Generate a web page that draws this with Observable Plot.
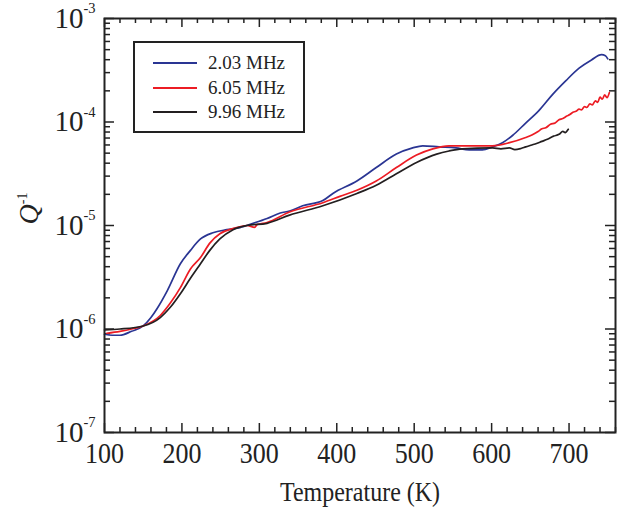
<!DOCTYPE html>
<html>
<head>
<meta charset="utf-8">
<script src="https://cdn.jsdelivr.net/npm/d3@7"></script>
<script src="https://cdn.jsdelivr.net/npm/@observablehq/plot@0.6"></script>
<style>
  html, body { margin: 0; padding: 0; background: #fff; }
  #wrap { position: relative; width: 633px; height: 508px; font-family: "Liberation Serif", "Times New Roman", serif; }
  #legend { position: absolute; left: 133px; top: 41px; width: 168px; height: 88px; border: 2px solid #222; background: #fff; }
  .row { position: absolute; left: 0; height: 24px; display: flex; align-items: center; }
  .sw { width: 44px; height: 0; border-top: 2px solid; margin-left: 18px; margin-right: 11px; }
  .lab { font-size: 19px; color: #222; }
</style>
</head>
<body>
<div id="wrap"></div>
<script>
// ---- data ----
const seriesNames = ["2.03 MHz", "6.05 MHz", "9.96 MHz"];
const seriesColors = ["#2a3593", "#ec1c24", "#231f20"];

const tBlue = [100,110,120,135,150,160,168,181,198,211,224,240,258,275,292,310,327,339,356,382,395,426,451,477,498,511,532,554,571,588,601,614,627,644,661,678,696,713,729,742,747,750];
const qBlue = [8.9e-7,8.7e-7,8.7e-7,9.5e-7,1.07e-6,1.29e-6,1.58e-6,2.34e-6,4.27e-6,5.75e-6,7.41e-6,8.51e-6,9.12e-6,9.55e-6,1.05e-5,1.17e-5,1.32e-5,1.38e-5,1.55e-5,1.74e-5,2.04e-5,2.69e-5,3.63e-5,4.9e-5,5.62e-5,5.89e-5,5.75e-5,5.62e-5,5.37e-5,5.37e-5,5.75e-5,6.31e-5,7.41e-5,9.77e-5,1.29e-4,1.82e-4,2.51e-4,3.31e-4,3.98e-4,4.47e-4,4.37e-4,4.07e-4];

const tRed = [103,120,135,150,172,185,198,211,224,236,249,266,284,294,297,310,339,382,404,426,451,477,503,524,545,571,601,623,644,652,660,665,670,676,682,687,692,697,701,705,709,713,716,720,723,727,730,734,737,740,743,746,749,752];
const qRed = [9.1e-7,9.5e-7,1.0e-6,1.07e-6,1.35e-6,1.78e-6,2.51e-6,3.8e-6,4.9e-6,6.76e-6,8.32e-6,9.33e-6,1.0e-5,9.6e-6,1.02e-5,1.07e-5,1.35e-5,1.66e-5,1.91e-5,2.19e-5,2.69e-5,3.63e-5,4.79e-5,5.5e-5,5.89e-5,5.89e-5,5.89e-5,6.31e-5,7.08e-5,7.5e-5,8.1e-5,8.6e-5,8.8e-5,9.5e-5,9.8e-5,1.05e-4,1.08e-4,1.14e-4,1.18e-4,1.24e-4,1.27e-4,1.33e-4,1.31e-4,1.41e-4,1.38e-4,1.5e-4,1.46e-4,1.6e-4,1.55e-4,1.74e-4,1.66e-4,1.83e-4,1.72e-4,1.92e-4];

const tBlack = [100,120,150,172,185,198,211,224,236,249,266,284,310,339,382,426,451,477,503,529,545,562,601,612,623,630,638,644,652,658,665,672,680,687,692,695,699];
const qBlack = [9.8e-7,1.0e-6,1.07e-6,1.29e-6,1.62e-6,2.19e-6,3.09e-6,4.27e-6,5.75e-6,7.41e-6,9.12e-6,1.0e-5,1.05e-5,1.26e-5,1.55e-5,2.04e-5,2.45e-5,3.16e-5,4.07e-5,4.9e-5,5.25e-5,5.5e-5,5.62e-5,5.5e-5,5.62e-5,5.4e-5,5.55e-5,5.75e-5,6.0e-5,6.2e-5,6.5e-5,6.8e-5,7.3e-5,7.6e-5,8.1e-5,7.9e-5,8.5e-5];

const xMajor = [100,200,300,400,500,600,700];
const yMajor = [1e-7,1e-6,1e-5,1e-4,1e-3];
const yExponents = ["-7","-6","-5","-4","-3"];
const xLabel = "Temperature (K)";
const yLabelMain = "Q";
const yLabelExp = "-1";

// ---- build tables ----
const rows = [];
[[tBlue,qBlue],[tRed,qRed],[tBlack,qBlack]].forEach(([t,q],i) => {
  t.forEach((v,j) => rows.push({T: v, Q: q[j], s: seriesNames[i]}));
});
const xMinor = d3.range(100, 761, 20).filter(v => v % 100 !== 0);
const yMinor = [];
for (let e = -7; e < -3; e++) for (let m = 2; m <= 9; m++) yMinor.push(m * Math.pow(10, e));
const yTickRows = yMajor.map((v,i) => ({v, e: yExponents[i]}));

const W = 633, H = 508, mL = 104, mR = 18, mT = 18, mB = 76;
const pw = W - mL - mR, ph = H - mT - mB;
const tickStyle = {stroke: "#222", strokeWidth: 1.5};

const chart = Plot.plot({
  width: W, height: H,
  marginLeft: mL, marginRight: mR, marginTop: mT, marginBottom: mB,
  style: {fontFamily: "'Liberation Serif', 'Times New Roman', serif", background: "#fff", color: "#222"},
  x: {domain: [100, 760], axis: null},
  y: {type: "log", domain: [1e-7, 1e-3], axis: null},
  color: {domain: seriesNames, range: seriesColors},
  marks: [
    // inward ticks: bottom / top
    Plot.tickX(xMajor, {x: d => d, insetTop: ph - 9, ...tickStyle}),
    Plot.tickX(xMajor, {x: d => d, insetBottom: ph - 9, ...tickStyle}),
    Plot.tickX(xMinor, {x: d => d, insetTop: ph - 5, ...tickStyle}),
    Plot.tickX(xMinor, {x: d => d, insetBottom: ph - 5, ...tickStyle}),
    // inward ticks: left / right
    Plot.tickY(yMajor, {y: d => d, insetRight: pw - 10, ...tickStyle}),
    Plot.tickY(yMajor, {y: d => d, insetLeft: pw - 10, ...tickStyle}),
    Plot.tickY(yMinor, {y: d => d, insetRight: pw - 6, ...tickStyle}),
    Plot.tickY(yMinor, {y: d => d, insetLeft: pw - 6, ...tickStyle}),
    // data lines
    Plot.line(rows, {x: "T", y: "Q", z: "s", stroke: "s", strokeWidth: 1.7, curve: "monotone-x"}),
    Plot.frame({stroke: "#222", strokeWidth: 2}),
    // x tick labels
    Plot.text(xMajor, {x: d => d, frameAnchor: "bottom", text: d => String(d), dy: 21, fontSize: 26, lineAnchor: "middle", fill: "#222"}),
    // y tick labels: "10" with superscript exponent
    Plot.text(yTickRows, {y: "v", frameAnchor: "left", text: () => "10", textAnchor: "end", dx: -21, dy: 0, fontSize: 29, lineAnchor: "middle", fill: "#222"}),
    Plot.text(yTickRows, {y: "v", frameAnchor: "left", text: "e", textAnchor: "start", dx: -21, dy: -10, fontSize: 14.5, lineAnchor: "middle", fill: "#222"}),
    // axis labels
    Plot.text([xLabel], {frameAnchor: "bottom", text: d => d, dy: 60, fontSize: 24, lineAnchor: "middle", fill: "#222"}),
    Plot.text([yLabelMain + yLabelExp], {frameAnchor: "left", text: d => d, dx: -75, dy: -1, rotate: -90, fontSize: 28, lineAnchor: "middle", fill: "#222"})
  ]
});

// post-process: superscript for the y-axis label and slight vertical stretch of tick labels (as in the reference)
chart.querySelectorAll("text").forEach(t => {
  const s = t.textContent;
  if (s === yLabelMain + yLabelExp) {
    t.textContent = "";
    const ns = "http://www.w3.org/2000/svg";
    const a = document.createElementNS(ns, "tspan");
    a.setAttribute("font-style", "italic");
    a.textContent = yLabelMain;
    const b = document.createElementNS(ns, "tspan");
    b.setAttribute("font-size", "14");
    b.setAttribute("dy", "-11");
    b.textContent = yLabelExp;
    t.appendChild(a); t.appendChild(b);
  } else if (/^\d00$/.test(s)) {
    t.setAttribute("transform", (t.getAttribute("transform") || "") + " scale(1,1.14)");
  } else if (s === xLabel) {
    t.setAttribute("transform", (t.getAttribute("transform") || "") + " scale(1,1.1)");
  }
});

const wrap = document.getElementById("wrap");
wrap.appendChild(chart);

// legend overlay
const legend = document.createElement("div");
legend.id = "legend";
seriesNames.forEach((name, i) => {
  const r = document.createElement("div");
  r.className = "row";
  r.style.top = (8 + i * 24.5) + "px";
  const sw = document.createElement("div");
  sw.className = "sw";
  sw.style.borderTopColor = seriesColors[i];
  const lab = document.createElement("span");
  lab.className = "lab";
  lab.textContent = name;
  r.appendChild(sw); r.appendChild(lab);
  legend.appendChild(r);
});
wrap.appendChild(legend);
</script>
</body>
</html>
